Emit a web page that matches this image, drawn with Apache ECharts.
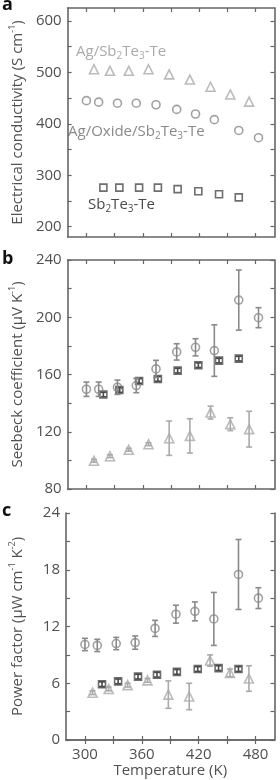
<!DOCTYPE html>
<html><head><meta charset="utf-8">
<script src="https://cdn.jsdelivr.net/npm/echarts@6/dist/echarts.min.js"></script>
<style>html,body{margin:0;padding:0;background:#fff}#c{width:280px;height:780px}</style>
</head><body><div id="c"></div>
<script>
// ---- data ----
const xTickValues = [300, 330, 360, 390, 420, 450, 480];
const xLabelValues = [300, 360, 420, 480];
const condTicks = [200, 250, 300, 350, 400, 450, 500, 550, 600];
const condLabels = [200, 300, 400, 500, 600];
const seebeckTicks = [80, 100, 120, 140, 160, 180, 200, 220, 240];
const seebeckLabels = [80, 120, 160, 200, 240];
const pfTicks = [0, 3, 6, 9, 12, 15, 18, 21, 24];
const pfLabels = [0, 6, 12, 18, 24];

const tempOxide = [300, 313, 333, 353, 374, 396, 416, 436, 462, 483];
const tempSb = [318, 335, 356, 376, 397, 419, 441, 462];
const tempAg = [308, 325, 345, 366, 388, 410, 432, 453, 473];

const condAg = [506, 503, 503, 506, 496, 486, 472, 457, 443];
const condOxide = [445, 442, 440, 440, 437, 428, 419, 408, 387, 373];
const condSb = [276, 276, 276, 276, 273, 269, 263, 257];

const seebeckOxide = [149.7, 149.7, 151.1, 152.3, 163.9, 175.8, 179, 176.7, 212, 199.7];
const seebeckOxideErr = [5, 5, 5, 5, 6, 5.7, 6, 18, 21, 7];
const seebeckSb = [146, 149.2, 155.5, 156.9, 162.7, 166.5, 169.7, 171.1];
const seebeckSbErr = [1.6, 1.6, 1.6, 1.6, 1.6, 1.6, 1.6, 1.6];
const seebeckAg = [99.7, 102.9, 107.4, 111.3, 115.5, 117.1, 133.4, 125.3, 121.8];
const seebeckAgErr = [1, 1, 1, 1, 12, 12, 4.5, 4.5, 12.5];

const pfOxide = [10.1, 10.0, 10.2, 10.3, 11.8, 13.3, 13.6, 12.8, 17.5, 15.0];
const pfOxideErr = [0.65, 0.65, 0.65, 0.7, 0.85, 0.95, 1, 2.8, 3.7, 1.1];
const pfSb = [5.9, 6.2, 6.7, 6.9, 7.2, 7.5, 7.6, 7.5];
const pfSbErr = [0.25, 0.25, 0.25, 0.25, 0.25, 0.25, 0.25, 0.25];
const pfAg = [5.0, 5.4, 5.8, 6.3, 4.8, 4.6, 8.4, 7.1, 6.5];
const pfAgErr = [0.2, 0.2, 0.2, 0.2, 1.45, 1.4, 0.6, 0.4, 1.35];

// ---- styles ----
const FONT = '"Open Sans", "Noto Sans", sans-serif';
const FS = 15;
const AX = '#666';
const TXT = '#505050';
const C_AG = '#aaaaaa';
const C_OX = '#8a8a8a';
const C_SB = '#4a4a4a';

const zip = (xs, ys, es) => xs.map((x, i) => es ? [x, ys[i], es[i]] : [x, ys[i]]);

const supRich = {
  n: {fontFamily: FONT, fontSize: FS, color: TXT, lineHeight: 19},
  s: {fontFamily: FONT, fontSize: 9, color: TXT, verticalAlign: 'top', lineHeight: 19, padding: [0, 0, 7, 0]}
};

function xAxes(grid, showLabels) {
  return [{
    gridIndex: grid, type: 'value', min: 280, max: 500, position: 'bottom',
    axisLine: {show: true, lineStyle: {color: AX, width: 1.6}},
    axisTick: {show: true, inside: true, length: 4, customValues: xTickValues, lineStyle: {color: AX, width: 1.2}},
    axisLabel: {show: showLabels, customValues: xLabelValues, margin: 7, color: TXT, fontFamily: FONT, fontSize: FS},
    splitLine: {show: false},
    name: showLabels ? 'Temperature (K)' : '', nameLocation: 'middle', nameGap: 23,
    nameTextStyle: {color: TXT, fontFamily: FONT, fontSize: FS}
  }, {
    gridIndex: grid, type: 'value', min: 280, max: 500, position: 'top',
    axisLine: {show: true, lineStyle: {color: AX, width: 1.6}},
    axisTick: {show: true, inside: true, length: 4, customValues: xTickValues, lineStyle: {color: AX, width: 1.2}},
    axisLabel: {show: false}, splitLine: {show: false}
  }];
}
function yAxes(grid, min, max, ticks, labels, name) {
  return [{
    gridIndex: grid, type: 'value', min: min, max: max, position: 'left',
    axisLine: {show: true, lineStyle: {color: AX, width: 1.6}},
    axisTick: {show: true, inside: true, length: 4, customValues: ticks, lineStyle: {color: AX, width: 1.2}},
    axisLabel: {show: true, customValues: labels, margin: 6, color: TXT, fontFamily: FONT, fontSize: FS},
    splitLine: {show: false},
    name: name, nameLocation: 'middle', nameGap: 39,
    nameTextStyle: {rich: supRich}
  }, {
    gridIndex: grid, type: 'value', min: min, max: max, position: 'right',
    axisLine: {show: true, lineStyle: {color: AX, width: 1.6}},
    axisTick: {show: true, inside: true, length: 4, customValues: ticks, lineStyle: {color: AX, width: 1.2}},
    axisLabel: {show: false}, splitLine: {show: false}
  }];
}

function scatter(xi, yi, data, symbol, size, color) {
  return {
    type: 'scatter', xAxisIndex: xi, yAxisIndex: yi, data: data, symbol: symbol, symbolSize: size,
    itemStyle: {color: 'rgba(0,0,0,0)', borderColor: color, borderWidth: 1.6}, z: 3,
    emphasis: {disabled: true}, silent: true
  };
}
function errbar(xi, yi, data, color) {
  return {
    type: 'custom', xAxisIndex: xi, yAxisIndex: yi, data: data, z: 4, silent: true,
    renderItem: function (params, api) {
      const x = api.value(0), y = api.value(1), e = api.value(2);
      const t = api.coord([x, y + e]);
      const b = api.coord([x, y - e]);
      const w = 3;
      const st = {stroke: color, lineWidth: 1.6};
      return {type: 'group', children: [
        {type: 'line', shape: {x1: t[0], y1: t[1], x2: b[0], y2: b[1]}, style: st},
        {type: 'line', shape: {x1: t[0] - w, y1: t[1], x2: t[0] + w, y2: t[1]}, style: st},
        {type: 'line', shape: {x1: b[0] - w, y1: b[1], x2: b[0] + w, y2: b[1]}, style: st}
      ]};
    }
  };
}

const legRich = (color) => ({
  n: {fontFamily: FONT, fontSize: FS, fill: color, lineHeight: 19},
  b: {fontFamily: FONT, fontSize: 10, fill: color, verticalAlign: 'bottom', lineHeight: 19, padding: [5, 0, 0, 0]}
});

const chart = echarts.init(document.getElementById('c'), null, {renderer: 'canvas'});
chart.setOption({
  animation: false,
  backgroundColor: '#fff',
  grid: [
    {left: 57, right: 5.5, top: 8, height: 229},
    {left: 57, right: 5.5, top: 260, height: 229},
    {left: 57, right: 5.5, top: 513, height: 227}
  ],
  xAxis: [...xAxes(0, false), ...xAxes(1, false), ...xAxes(2, true)],
  yAxis: [
    ...yAxes(0, 180, 625, condTicks, condLabels, '{n|Electrical conductivity (S cm}{s|-1}{n|)}'),
    ...yAxes(1, 80, 240, seebeckTicks, seebeckLabels, '{n|Seebeck coefficient (μV K}{s|-1}{n|)}'),
    ...yAxes(2, 0, 24, pfTicks, pfLabels, '{n|Power factor (μW cm}{s|-1}{n| K}{s|-2}{n|)}')
  ],
  graphic: [
    {type: 'text', left: 2, top: -4, style: {text: 'a', fontFamily: FONT, fontSize: 18, fontWeight: 'bold', fill: '#111'}},
    {type: 'text', left: 2, top: 250, style: {text: 'b', fontFamily: FONT, fontSize: 18, fontWeight: 'bold', fill: '#111'}},
    {type: 'text', left: 2, top: 502, style: {text: 'c', fontFamily: FONT, fontSize: 18, fontWeight: 'bold', fill: '#111'}},
    {type: 'text', left: 76, top: 44, style: {text: '{n|Ag/Sb}{b|2}{n|Te}{b|3}{n|-Te}', rich: legRich(C_AG)}},
    {type: 'text', left: 68, top: 124, style: {text: '{n|Ag/Oxide/Sb}{b|2}{n|Te}{b|3}{n|-Te}', rich: legRich(C_OX)}},
    {type: 'text', left: 88, top: 197, style: {text: '{n|Sb}{b|2}{n|Te}{b|3}{n|-Te}', rich: legRich(C_SB)}}
  ],
  series: [
    scatter(0, 0, zip(tempAg, condAg), 'triangle', 9, C_AG),
    scatter(0, 0, zip(tempOxide, condOxide), 'circle', 8, C_OX),
    scatter(0, 0, zip(tempSb, condSb), 'rect', 7, C_SB),

    errbar(2, 2, zip(tempAg, seebeckAg, seebeckAgErr), C_AG),
    scatter(2, 2, zip(tempAg, seebeckAg), 'triangle', 9, C_AG),
    errbar(2, 2, zip(tempSb, seebeckSb, seebeckSbErr), C_SB),
    scatter(2, 2, zip(tempSb, seebeckSb), 'rect', 7, C_SB),
    errbar(2, 2, zip(tempOxide, seebeckOxide, seebeckOxideErr), C_OX),
    scatter(2, 2, zip(tempOxide, seebeckOxide), 'circle', 8, C_OX),

    errbar(4, 4, zip(tempAg, pfAg, pfAgErr), C_AG),
    scatter(4, 4, zip(tempAg, pfAg), 'triangle', 9, C_AG),
    errbar(4, 4, zip(tempSb, pfSb, pfSbErr), C_SB),
    scatter(4, 4, zip(tempSb, pfSb), 'rect', 7, C_SB),
    errbar(4, 4, zip(tempOxide, pfOxide, pfOxideErr), C_OX),
    scatter(4, 4, zip(tempOxide, pfOxide), 'circle', 8, C_OX)
  ]
});
</script></body></html>
